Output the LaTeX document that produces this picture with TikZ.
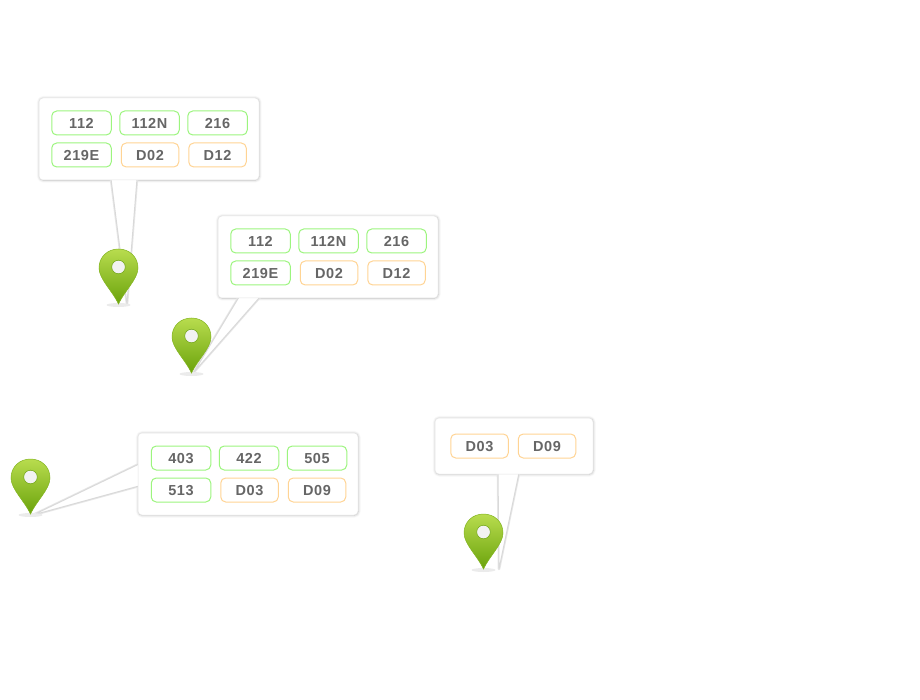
\documentclass[tikz,border=0pt]{standalone}
\usepackage{fontspec}
\newfontfamily\chipfont[LetterSpace=4]{Liberation Sans}
\usetikzlibrary{
    positioning,
    calc,
    backgrounds,
    shadows.blur,
}
\definecolor{chipgreen}{HTML}{9CF57E}
\definecolor{chiporange}{HTML}{FFD494}
\definecolor{chiptext}{HTML}{666666}
\definecolor{edgegray}{HTML}{E4E4E4}
\definecolor{pintop}{HTML}{B8DC4E}
\definecolor{pinbottom}{HTML}{6BA30C}

\begin{document}
\begin{tikzpicture}[
    x=1pt, y=-1pt,
    bubble/.style={draw=edgegray, fill=white, rounded corners=4pt, line width=0.5pt, outer sep=0pt,
                minimum width=220pt, minimum height=82pt},
    shade/.style={fill=white, rounded corners=4pt,
                blur shadow={shadow xshift=0.3pt, shadow yshift=-0.3pt, shadow blur radius=2.5pt, shadow blur steps=5, shadow opacity=28}},
    chip/.style={rounded corners=5pt, line width=1pt, align=center, outer sep=0pt, inner sep=0pt,
                minimum height=24pt, text height=10.5pt, text depth=0pt, text=chiptext,
                font=\chipfont\fontsize{14.5}{16}\selectfont\bfseries},
    chipg/.style={chip, draw=chipgreen, minimum width=59.5pt},
    chipo/.style={chip, draw=chiporange, minimum width=57.5pt},
    tail/.style={fill=white, draw=black!15, line width=1pt, line join=round,
                preaction={draw=black!9, line width=2.6pt, line join=round}},
    pics/mappin/.style={code={
        \fill[black!8] (0,1) ellipse (12 and 2);
        \draw[draw=pinbottom!70!pintop, line width=0.5pt, top color=pintop, bottom color=pinbottom]
            (0,0) .. controls (-6,-13) and (-19.5,-25) .. (-19.5,-36)
            .. controls (-19.5,-47) and (-11,-55) .. (0,-55)
            .. controls (11,-55) and (19.5,-47) .. (19.5,-36)
            .. controls (19.5,-25) and (6,-13) .. (0,0) -- cycle;
        \draw[draw=pinbottom, line width=0.5pt, fill=black!5] (0,-37) circle (6.8);
    }},
]

% Pin tips
\coordinate (tipA) at (118.5,304);
\coordinate (tipB) at (191.5,373);
\coordinate (tipC) at (30.5,514);
\coordinate (tipD) at (483.5,569);

% Free ends of the tails
\coordinate (endA) at (127,304);
\coordinate (endB) at (194,372);
\coordinate (endC) at (33,515);
\coordinate (endD) at (499,569);

% Top left bubble
\node[bubble] (bubbleA) at (149,139) {};
\node[chipg] (a112) at (81.5,123) {112};
\node[chipg] (a112N) [right=8.5pt of a112] {112N};
\node[chipg] (a216) [right=8.5pt of a112N] {216};
\node[chipg] (a219E) [below=8pt of a112] {219E};
\node[chipo] (aD02) [right=10pt of a219E] {D02};
\node[chipo] (aD12) [right=10pt of aD02] {D12};

% Middle bubble
\node[bubble] (bubbleB) at (328,257) {};
\node[chipg] (b112) at (260.5,241) {112};
\node[chipg] (b112N) [right=8.5pt of b112] {112N};
\node[chipg] (b216) [right=8.5pt of b112N] {216};
\node[chipg] (b219E) [below=8pt of b112] {219E};
\node[chipo] (bD02) [right=10pt of b219E] {D02};
\node[chipo] (bD12) [right=10pt of bD02] {D12};

% Lower left bubble
\node[bubble] (bubbleC) at (248,474) {};
\node[chipg] (c403) at (181,458) {403};
\node[chipg] (c422) [right=8.5pt of c403] {422};
\node[chipg] (c505) [right=8.5pt of c422] {505};
\node[chipg] (c513) [below=8pt of c403] {513};
\node[chipo] (cD03) [right=10pt of c513] {D03};
\node[chipo] (cD09) [right=10pt of cD03] {D09};

% Lower right bubble
\node[bubble, minimum width=158pt, minimum height=56pt] (bubbleD) at (514,446) {};
\node[chipo] (dD03) at (479.5,446) {D03};
\node[chipo] (dD09) [right=10pt of dD03] {D09};

% Shadows, then tails over them
\begin{scope}[on background layer]
\path[shade] (bubbleA.south west) rectangle (bubbleA.north east);
\path[shade] (bubbleB.south west) rectangle (bubbleB.north east);
\path[shade] (bubbleC.south west) rectangle (bubbleC.north east);
\path[shade] (bubbleD.south west) rectangle (bubbleD.north east);
\draw[tail] ($(bubbleA.south west)+(72,-1)$) -- (endA) -- ($(bubbleA.south west)+(98,-1)$);
\draw[tail] ($(bubbleB.south west)+(21,-1)$) -- (endB) -- ($(bubbleB.south west)+(42,-1)$);
\draw[tail] ($(bubbleC.north west)+(1,31)$) -- (endC) -- ($(bubbleC.north west)+(1,53)$);
\draw[tail] ($(bubbleD.south west)+(63,-1)$) -- (endD) -- ($(bubbleD.south west)+(84,-1)$);
\end{scope}

% Pins
\pic at (tipA) {mappin};
\pic at (tipB) {mappin};
\pic at (tipC) {mappin};
\pic at (tipD) {mappin};

\useasboundingbox (0,0) rectangle (920,700);
\end{tikzpicture}
\end{document}
